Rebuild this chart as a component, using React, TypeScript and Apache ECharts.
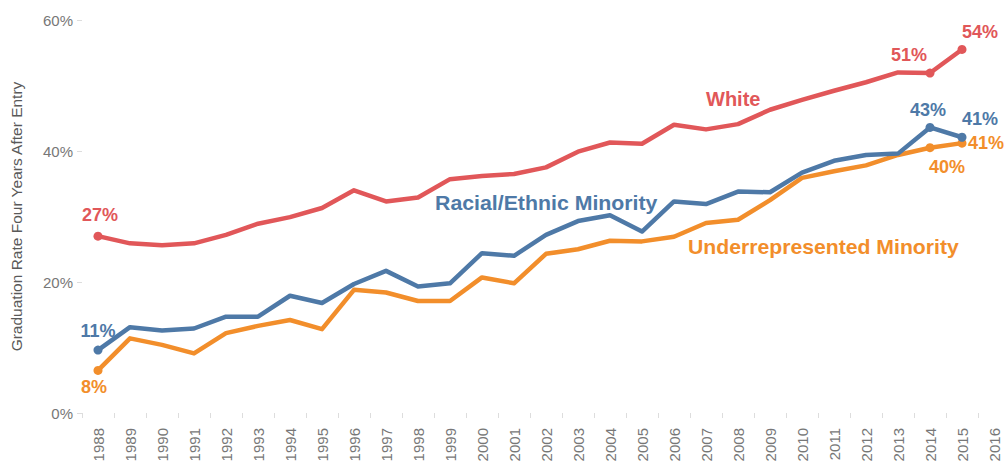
import React, { useEffect, useRef } from "react";
import * as echarts from "echarts";

const years = [
  "1988", "1989", "1990", "1991", "1992", "1993", "1994", "1995", "1996", "1997",
  "1998", "1999", "2000", "2001", "2002", "2003", "2004", "2005", "2006", "2007",
  "2008", "2009", "2010", "2011", "2012", "2013", "2014", "2015", "2016",
];

const white = [
  27.0, 25.9, 25.6, 25.9, 27.2, 28.9, 29.9, 31.3, 34.0, 32.3,
  32.9, 35.7, 36.2, 36.5, 37.5, 39.9, 41.3, 41.1, 44.0, 43.3,
  44.1, 46.3, 47.8, 49.2, 50.5, 52.0, 51.9, 55.5,
];

const racialEthnic = [
  9.6, 13.1, 12.6, 12.9, 14.7, 14.7, 17.9, 16.8, 19.7, 21.7,
  19.3, 19.8, 24.4, 24.0, 27.2, 29.3, 30.2, 27.7, 32.3, 31.9,
  33.8, 33.7, 36.7, 38.5, 39.4, 39.6, 43.6, 42.1,
];

const underrepresented = [
  6.5, 11.4, 10.4, 9.1, 12.2, 13.3, 14.2, 12.8, 18.8, 18.4,
  17.1, 17.1, 20.7, 19.8, 24.3, 25.0, 26.3, 26.2, 26.9, 29.0,
  29.5, 32.5, 35.9, 36.9, 37.8, 39.4, 40.5, 41.2,
];

const yTicks = [0, 20, 40, 60];

const labelYears = ["1988", "2014", "2015"];
const whiteLabels = ["27%", "51%", "54%"];
const racialLabels = ["11%", "43%", "41%"];
const underLabels = ["8%", "40%", "41%"];

const seriesNames = ["White", "Racial/Ethnic Minority", "Underrepresented Minority"];

const COLORS = { white: "#E15759", racial: "#4E79A7", under: "#F28E2B" };
const FONT = "'Liberation Sans', Arial, sans-serif";

// label offsets (style only)
const whiteOffsets = [[2, -21], [-21, -18], [18, -17]];
const racialOffsets = [[0, -19], [-2, -17], [18, -18]];
const underOffsets = [[-4, 17], [17, 19], [24, 0]];

function buildData(values: number[], texts: string[], offsets: number[][], color: string) {
  return values.map((v, i) => {
    const li = labelYears.indexOf(years[i]);
    if (li < 0) return { value: v, symbol: "none" };
    return {
      value: v,
      symbol: "circle",
      symbolSize: 9,
      label: {
        show: true,
        formatter: texts[li],
        position: "inside",
        offset: offsets[li],
        align: "center",
        verticalAlign: "middle",
        color,
        fontSize: 18,
        fontWeight: "bold",
        fontFamily: FONT,
      },
    };
  });
}

function lineSeries(name: string, values: number[], texts: string[], offsets: number[][], color: string) {
  return {
    name,
    type: "line",
    data: buildData(values, texts, offsets, color),
    symbol: "none",
    showSymbol: true,
    showAllSymbol: true,
    lineStyle: { color, width: 4.5, join: "round", cap: "round" },
    itemStyle: { color },
    emphasis: { disabled: true },
    z: 3,
  };
}

export default function App() {
  const ref = useRef<HTMLDivElement>(null);
  useEffect(() => {
    if (!ref.current) return;
    const chart = echarts.init(ref.current, undefined, { renderer: "svg" });
    chart.setOption({
      animation: false,
      backgroundColor: "#ffffff",
      grid: {
        left: 82,
        right: -5,
        top: 20,
        bottom: 53,
        containLabel: false,
        outerBoundsMode: "none",
      },
      xAxis: {
        type: "category",
        data: years,
        boundaryGap: true,
        offset: 8,
        axisLine: { show: false },
        axisTick: { show: true, length: 5, lineStyle: { color: "#dddddd" } },
        axisLabel: {
          rotate: 90,
          margin: 7,
          color: "#777777",
          fontSize: 15,
          fontFamily: FONT,
          interval: 0,
        },
        splitLine: { show: false },
      },
      yAxis: {
        type: "value",
        min: yTicks[0],
        max: yTicks[yTicks.length - 1],
        interval: 20,
        name: "Graduation Rate Four Years After Entry",
        nameLocation: "middle",
        nameGap: 58,
        nameTextStyle: { color: "#595959", fontSize: 15.5, fontFamily: FONT },
        axisLine: { show: false },
        axisTick: { show: true, length: 5, lineStyle: { color: "#dddddd" } },
        axisLabel: {
          formatter: "{value}%",
          color: "#777777",
          fontSize: 15,
          fontFamily: FONT,
          margin: 9,
        },
        splitLine: { show: false },
      },
      graphic: [
        {
          type: "text",
          left: 706,
          top: 89,
          style: { text: seriesNames[0], fill: COLORS.white, font: `bold 20px ${FONT}` },
        },
        {
          type: "text",
          left: 435,
          top: 193,
          scaleX: 1.065,
          style: { text: seriesNames[1], fill: COLORS.racial, font: `bold 20px ${FONT}` },
        },
        {
          type: "text",
          left: 688,
          top: 237,
          scaleX: 1.06,
          style: { text: seriesNames[2], fill: COLORS.under, font: `bold 20px ${FONT}` },
        },
      ],
      series: [
        lineSeries(seriesNames[0], white, whiteLabels, whiteOffsets, COLORS.white),
        lineSeries(seriesNames[2], underrepresented, underLabels, underOffsets, COLORS.under),
        lineSeries(seriesNames[1], racialEthnic, racialLabels, racialOffsets, COLORS.racial),
      ],
    });
    return () => chart.dispose();
  }, []);
  return (
    <div
      ref={ref}
      style={{ position: "fixed", left: 0, top: 0, width: 1005, height: 466 }}
    />
  );
}
